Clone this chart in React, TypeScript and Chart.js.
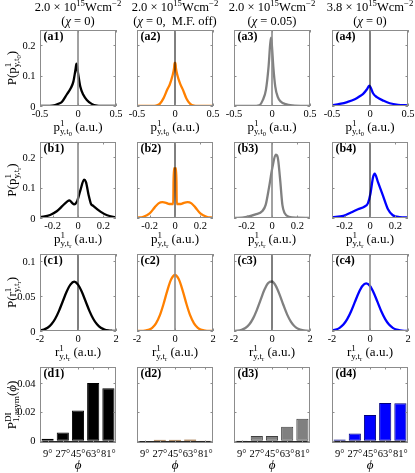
import React, { useEffect, useRef } from 'react';
import { Chart, registerables } from 'chart.js';

Chart.register(...registerables);

const FAMILY = '"Liberation Serif", "Times New Roman", "DejaVu Serif", serif';
Chart.defaults.font.family = FAMILY;
Chart.defaults.color = '#000';

// ---------------- data ----------------
const COLUMN_INTENSITY = ['2.0', '2.0', '2.0', '3.8'];
const COLUMN_CHI = ['0)', '0,  M.F. off)', '0.05)', '0)'];
const ROW_LETTERS = ['a', 'b', 'c', 'd'];

const A_X_RANGE = [-0.5, 0.5];
const A_Y_RANGE = [0, 0.25];
const A_X_TICKS = [-0.5, 0, 0.5];
const A_X_TICK_LABELS = ['-0.5', '0', '0.5'];
const A_Y_TICKS = [0, 0.1, 0.2];
const A_Y_TICK_LABELS = ['0', '0.1', '0.2'];

const B_X_RANGE = [-0.3, 0.3];
const B_Y_RANGE = [0, 0.25];
const B_X_TICKS = [-0.2, 0, 0.2];
const B_X_TICK_LABELS = ['-0.2', '0', '0.2'];
const B_Y_TICKS = [0, 0.1, 0.2];
const B_Y_TICK_LABELS = ['0', '0.1', '0.2'];

const C_X_RANGE = [-2, 2];
const C_Y_RANGE = [0, 0.11];
const C_X_TICKS = [-2, 0, 2];
const C_X_TICK_LABELS = ['-2', '0', '2'];
const C_Y_TICKS = [0, 0.05, 0.1];
const C_Y_TICK_LABELS = ['0', '0.05', '0.1'];

const D_Y_RANGE = [-0.0015, 0.051];
const D_Y_TICKS = [0, 0.02, 0.04];
const D_Y_TICK_LABELS = ['0', '0.02', '0.04'];
const PHI_CATEGORIES = ['9°', '27°', '45°', '63°', '81°'];

const A1_X = [-0.5, -0.4, -0.34, -0.3, -0.25, -0.21, -0.15, -0.094, -0.06, -0.033, -0.02, 0, 0.03, 0.07, 0.116, 0.18, 0.25, 0.3, 0.4, 0.5];
const A1_Y = [0, 0, 0.001, 0.003, 0.008, 0.014, 0.037, 0.059, 0.081, 0.12, 0.139, 0.109, 0.064, 0.037, 0.02, 0.007, 0.001, 0, 0, 0];
const A2_X = [-0.5, -0.3, -0.25, -0.2, -0.15, -0.1, -0.07, -0.035, -0.012, -0.006, 0.006, 0.012, 0.035, 0.07, 0.105, 0.15, 0.2, 0.25, 0.3, 0.5];
const A2_Y = [0, 0, 0.001, 0.007, 0.026, 0.055, 0.07, 0.098, 0.125, 0.142, 0.142, 0.125, 0.098, 0.072, 0.053, 0.025, 0.007, 0.001, 0, 0];
const A3_X = [-0.5, -0.25, -0.17, -0.12, -0.08, -0.045, -0.025, -0.013, -0.003, 0.017, 0.043, 0.074, 0.118, 0.18, 0.27, 0.5];
const A3_Y = [0, 0, 0.002, 0.02, 0.053, 0.13, 0.2, 0.225, 0.205, 0.13, 0.064, 0.031, 0.014, 0.006, 0.002, 0];
const A4_X = [-0.5, -0.4, -0.3, -0.2, -0.14, -0.09, -0.04, -0.01, 0.01, 0.04, 0.09, 0.18, 0.26, 0.37, 0.5];
const A4_Y = [0.002, 0.0067, 0.013, 0.022, 0.031, 0.04, 0.055, 0.067, 0.06, 0.042, 0.029, 0.017, 0.009, 0.004, 0.002];

const B1_X = [-0.3, -0.22, -0.165, -0.127, -0.086, -0.067, -0.047, -0.03, -0.008, 0.018, 0.048, 0.063, 0.084, 0.102, 0.12, 0.177, 0.23, 0.3];
const B1_Y = [0.002, 0.01, 0.023, 0.038, 0.054, 0.058, 0.05, 0.045, 0.054, 0.09, 0.126, 0.118, 0.075, 0.047, 0.04, 0.021, 0.009, 0.002];
const B2_X = [-0.3, -0.25, -0.2, -0.16, -0.13, -0.1, -0.07, -0.045, -0.014, -0.01, 0.01, 0.014, 0.045, 0.07, 0.1, 0.13, 0.16, 0.2, 0.25, 0.3];
const B2_Y = [0.001, 0.004, 0.015, 0.035, 0.048, 0.052, 0.05, 0.046, 0.046, 0.163, 0.163, 0.046, 0.046, 0.05, 0.052, 0.048, 0.035, 0.015, 0.004, 0.001];
const B3_X = [-0.3, -0.21, -0.13, -0.076, -0.05, -0.024, 0.003, 0.029, 0.045, 0.063, 0.082, 0.1, 0.134, 0.2, 0.3];
const B3_Y = [0, 0.003, 0.012, 0.023, 0.043, 0.099, 0.166, 0.208, 0.2, 0.132, 0.043, 0.016, 0.004, 0.001, 0];
const B4_X = [-0.3, -0.21, -0.15, -0.095, -0.042, -0.016, 0.003, 0.024, 0.037, 0.063, 0.103, 0.142, 0.18, 0.234, 0.3];
const B4_Y = [0.002, 0.007, 0.018, 0.029, 0.038, 0.049, 0.079, 0.134, 0.146, 0.118, 0.073, 0.029, 0.009, 0.003, 0.002];

const C_X = [-2, -1.8, -1.6, -1.4, -1.2, -1, -0.8, -0.6, -0.4, -0.2, 0, 0.2, 0.4, 0.6, 0.8, 1, 1.2, 1.4, 1.6, 1.8, 2];
const C1_Y = [0.0008, 0.002, 0.0046, 0.0095, 0.0175, 0.0288, 0.0425, 0.056, 0.0662, 0.0705, 0.0662, 0.056, 0.0425, 0.0288, 0.0175, 0.0095, 0.0046, 0.002, 0.0008, 0.0003, 0.0001];
const C2_Y = [0, 0.0001, 0.0005, 0.0016, 0.0045, 0.0108, 0.0222, 0.0389, 0.0581, 0.0738, 0.08, 0.0738, 0.0581, 0.0389, 0.0222, 0.0108, 0.0045, 0.0016, 0.0005, 0.0001, 0];
const C3_Y = [0.0002, 0.0006, 0.0018, 0.0043, 0.0093, 0.0177, 0.0299, 0.0446, 0.0588, 0.0686, 0.0707, 0.0645, 0.052, 0.0371, 0.0234, 0.013, 0.0064, 0.0028, 0.0011, 0.0004, 0.0001];
const C4_Y = [0.0008, 0.0019, 0.0045, 0.0092, 0.017, 0.0279, 0.0412, 0.0543, 0.0642, 0.068, 0.0642, 0.0543, 0.0412, 0.0279, 0.017, 0.0092, 0.0045, 0.0019, 0.0008, 0.0003, 0.0001];

const D1 = [0.0014, 0.0057, 0.0209, 0.04, 0.0363];
const D2 = [0.0001, 0.0007, 0.0007, 0.0009, -0.0015];
const D3 = [-0.0002, 0.0034, 0.0033, 0.0097, 0.0152];
const D4 = [0.0009, 0.005, 0.0179, 0.0262, 0.026];

const ROWS: any[] = [
  { xs: [A1_X, A2_X, A3_X, A4_X], ys: [A1_Y, A2_Y, A3_Y, A4_Y], xRange: A_X_RANGE, yRange: A_Y_RANGE, xTicks: A_X_TICKS, xTickLabels: A_X_TICK_LABELS, yTicks: A_Y_TICKS, yTickLabels: A_Y_TICK_LABELS },
  { xs: [B1_X, B2_X, B3_X, B4_X], ys: [B1_Y, B2_Y, B3_Y, B4_Y], xRange: B_X_RANGE, yRange: B_Y_RANGE, xTicks: B_X_TICKS, xTickLabels: B_X_TICK_LABELS, yTicks: B_Y_TICKS, yTickLabels: B_Y_TICK_LABELS },
  { xs: [C_X, C_X, C_X, C_X], ys: [C1_Y, C2_Y, C3_Y, C4_Y], xRange: C_X_RANGE, yRange: C_Y_RANGE, xTicks: C_X_TICKS, xTickLabels: C_X_TICK_LABELS, yTicks: C_Y_TICKS, yTickLabels: C_Y_TICK_LABELS },
  { bars: [D1, D2, D3, D4], categories: PHI_CATEGORIES, yRange: D_Y_RANGE, yTicks: D_Y_TICKS, yTickLabels: D_Y_TICK_LABELS },
];

// ---------------- layout / style ----------------
const W = 415;
const H = 473;
const COL_LEFT = [40, 137, 234, 332];
const PLOT_W = 76;
const ROW_TOP = [30, 142, 254, 367];
const ROW_H = [76, 76, 77, 76];
const YAXIS_W = 30;
const XAXIS_H = 20;
const ROW_TICK_PAD = [1.5, 1.5, 1.5, 4.5];
const ROW_XLABEL_BASE = [131, 243, 356, 469];
const BOX = '#8c8c8c';
const TICK_LEN = 2.5;
const TICK_FONT_SIZE = 10.5;
const CURVE_COLORS = ['#000000', '#ff8000', '#808080', '#0000ff'];
const BAR_EDGES = ['#000000', '#7f4000', '#404040', '#00007f'];
const ZERO_GRAY = [[1, 0, 1, 0], [1, 0, 1, 0], [0, 1, 0, 1]];

type Seg = { t: string; k?: 'n' | 'sup' | 'sub' | 'sub2'; it?: boolean; b?: boolean; back?: boolean };

const X_LABELS: Seg[][] = [
  [{ t: 'p' }, { t: '1', k: 'sup' }, { t: 'y,t', k: 'sub', back: true }, { t: '0', k: 'sub2' }, { t: ' (a.u.)' }],
  [{ t: 'p' }, { t: '1', k: 'sup' }, { t: 'y,t', k: 'sub', back: true }, { t: 'r', k: 'sub2' }, { t: ' (a.u.)' }],
  [{ t: 'r' }, { t: '1', k: 'sup' }, { t: 'y,t', k: 'sub', back: true }, { t: 'r', k: 'sub2' }, { t: ' (a.u.)' }],
  [{ t: 'ϕ', it: true }],
];
const Y_LABELS: Seg[][] = [
  [{ t: 'P(p' }, { t: '1', k: 'sup' }, { t: 'y,t', k: 'sub', back: true }, { t: '0', k: 'sub2' }, { t: ')' }],
  [{ t: 'P(p' }, { t: '1', k: 'sup' }, { t: 'y,t', k: 'sub', back: true }, { t: 'r', k: 'sub2' }, { t: ')' }],
  [{ t: 'P(r' }, { t: '1', k: 'sup' }, { t: 'y,t', k: 'sub', back: true }, { t: 'r', k: 'sub2' }, { t: ')' }],
  [{ t: 'P' }, { t: 'DI', k: 'sup' }, { t: '1,asym', k: 'sub', back: true }, { t: '(' }, { t: 'ϕ', it: true }, { t: ')' }],
];

function drawRich(ctx: CanvasRenderingContext2D, segs: Seg[], x: number, y: number, size: number, align: string) {
  const items: any[] = [];
  let cx = 0;
  let prevStart = 0;
  for (const s of segs) {
    const k = s.k || 'n';
    const sc = k === 'sup' || k === 'sub' ? 0.7 : k === 'sub2' ? 0.5 : 1;
    const font = `${s.it ? 'italic ' : ''}${s.b ? 'bold ' : ''}${(size * sc).toFixed(2)}px ${FAMILY}`;
    ctx.font = font;
    const w = ctx.measureText(s.t).width;
    const start = s.back ? prevStart : cx;
    const dy = k === 'sup' ? -0.38 * size : k === 'sub' ? 0.22 * size : k === 'sub2' ? 0.36 * size : 0;
    items.push({ t: s.t, font, x: start, dy });
    prevStart = start;
    cx = Math.max(cx, start + w);
  }
  const x0 = align === 'center' ? x - cx / 2 : align === 'right' ? x - cx : x;
  ctx.textAlign = 'left';
  ctx.textBaseline = 'alphabetic';
  for (const it of items) {
    ctx.font = it.font;
    ctx.fillText(it.t, x0 + it.x, y + it.dy);
  }
}

function yPixel(chart: any, spec: any, v: number): number {
  const ys = chart.scales.y;
  let p = ys ? ys.getPixelForValue(v) : NaN;
  if (!Number.isFinite(p) || p < 0 || p > H) {
    const a = chart.chartArea;
    p = a.bottom - ((v - spec.yRange[0]) / (spec.yRange[1] - spec.yRange[0])) * (a.bottom - a.top);
  }
  return p;
}

function decorPlugin(row: number, col: number) {
  const spec = ROWS[row];
  const isBar = row === 3;
  return {
    id: 'decor',
    afterDatasetsDraw(chart: any) {
      if (!isBar) return;
      const ctx = chart.ctx;
      const a = chart.chartArea;
      const y0 = Math.round(yPixel(chart, spec, 0)) + 0.5;
      ctx.save();
      ctx.strokeStyle = '#262626';
      ctx.lineWidth = 1;
      ctx.beginPath();
      ctx.moveTo(a.left, y0);
      ctx.lineTo(a.right, y0);
      ctx.stroke();
      ctx.restore();
    },
    afterDraw(chart: any) {
      const ctx: CanvasRenderingContext2D = chart.ctx;
      const a = chart.chartArea;
      const xs = chart.scales.x;
      const xPix: number[] = isBar
        ? spec.categories.map((_c: string, i: number) => xs.getPixelForValue(i))
        : spec.xTicks.map((v: number) => xs.getPixelForValue(v));
      const yPix: number[] = spec.yTicks.map((v: number) => yPixel(chart, spec, v));

      ctx.save();
      ctx.strokeStyle = BOX;
      ctx.lineWidth = 1;
      ctx.strokeRect(a.left + 0.5, a.top + 0.5, a.right - a.left - 1, a.bottom - a.top - 1);
      ctx.beginPath();
      xPix.forEach((px) => {
        const p = Math.round(px) + 0.5;
        ctx.moveTo(p, a.bottom);
        ctx.lineTo(p, a.bottom - TICK_LEN);
        ctx.moveTo(p, a.top);
        ctx.lineTo(p, a.top + TICK_LEN);
      });
      yPix.forEach((py) => {
        const p = Math.round(py) + 0.5;
        ctx.moveTo(a.left, p);
        ctx.lineTo(a.left + TICK_LEN, p);
        ctx.moveTo(a.right, p);
        ctx.lineTo(a.right - TICK_LEN, p);
      });
      ctx.stroke();
      ctx.restore();

      ctx.save();
      ctx.fillStyle = '#000000';
      if (col === 0) {
        for (let i = 0; i < yPix.length; i++) {
          drawRich(ctx, [{ t: String(spec.yTickLabels[i]) }], a.left - 4.5, yPix[i] + 3.6, TICK_FONT_SIZE, 'right');
        }
      }
      drawRich(ctx, [{ t: `(${ROW_LETTERS[row]}${col + 1})`, b: true }], a.left + 3.5, a.top + 10, 12, 'left');
      const cxp = (a.left + a.right) / 2;
      drawRich(ctx, X_LABELS[row], cxp, ROW_XLABEL_BASE[row], 13, 'center');
      if (row === 0) {
        drawRich(ctx, [{ t: `${COLUMN_INTENSITY[col]} × 10` }, { t: '15', k: 'sup' }, { t: 'Wcm' }, { t: '−2', k: 'sup' }], cxp, 11, 12.5, 'center');
        drawRich(ctx, [{ t: '(' }, { t: 'χ', it: true }, { t: ` = ${COLUMN_CHI[col]}` }], cxp, 24.5, 12.5, 'center');
      }
      ctx.restore();
      if (col === 0) {
        ctx.save();
        ctx.fillStyle = '#000000';
        ctx.translate(16, (a.top + a.bottom) / 2);
        ctx.rotate(-Math.PI / 2);
        drawRich(ctx, Y_LABELS[row], 0, 0, 13, 'center');
        ctx.restore();
      }
    },
  };
}

function buildConfig(row: number, col: number) {
  const spec = ROWS[row];
  const left = COL_LEFT[col];
  const top = ROW_TOP[row];
  const h = ROW_H[row];
  const padding = { left: left - YAXIS_W, top, right: W - left - PLOT_W, bottom: H - top - h - XAXIS_H };
  const tickFont = { family: FAMILY, size: TICK_FONT_SIZE };
  const isBar = row === 3;
  const xAfterFit = (s: any) => {
    s.height = XAXIS_H;
    s.paddingLeft = 0;
    s.paddingRight = 0;
  };
  const xScale: any = isBar
    ? {
        type: 'category',
        offset: true,
        grid: { display: false, drawTicks: false },
        border: { display: false },
        ticks: { font: tickFont, color: '#000', padding: ROW_TICK_PAD[row], autoSkip: false, maxRotation: 0, minRotation: 0 },
        afterFit: xAfterFit,
      }
    : {
        type: 'linear',
        min: spec.xRange[0],
        max: spec.xRange[1],
        afterBuildTicks: (s: any) => {
          s.ticks = spec.xTicks.map((v: number) => ({ value: v }));
        },
        grid: { display: false, drawTicks: false },
        border: { display: false },
        ticks: {
          font: tickFont,
          color: '#000',
          padding: ROW_TICK_PAD[row],
          autoSkip: false,
          maxRotation: 0,
          minRotation: 0,
          callback: (_v: any, i: number) => spec.xTickLabels[i],
        },
        afterFit: xAfterFit,
      };
  const yScale: any = {
    type: 'linear',
    min: spec.yRange[0],
    max: spec.yRange[1],
    grid: { display: false, drawTicks: false },
    border: { display: false },
    ticks: { display: false },
    afterFit: (s: any) => {
      s.width = YAXIS_W;
      s.paddingTop = 0;
      s.paddingBottom = 0;
    },
  };
  const options: any = {
    animation: false,
    responsive: false,
    maintainAspectRatio: false,
    events: [],
    layout: { padding },
    plugins: { legend: { display: false }, tooltip: { enabled: false }, title: { display: false } },
    scales: { x: xScale, y: yScale },
  };
  let data: any;
  if (isBar) {
    data = {
      labels: spec.categories,
      datasets: [
        {
          data: spec.bars[col],
          backgroundColor: CURVE_COLORS[col],
          borderColor: BAR_EDGES[col],
          borderWidth: 1,
          borderSkipped: false,
          barPercentage: 0.8,
          categoryPercentage: 1,
        },
      ],
    };
  } else {
    const gray = ZERO_GRAY[row][col] === 1;
    data = {
      datasets: [
        {
          data: [
            { x: 0, y: spec.yRange[0] },
            { x: 0, y: spec.yRange[1] },
          ],
          borderColor: gray ? '#8a8a8a' : '#000000',
          borderWidth: gray ? 1.6 : 1,
          pointRadius: 0,
          fill: false,
        },
        {
          data: spec.xs[col].map((x: number, i: number) => ({ x, y: spec.ys[col][i] })),
          borderColor: CURVE_COLORS[col],
          borderWidth: 2.3,
          pointRadius: 0,
          fill: false,
          cubicInterpolationMode: 'monotone',
        },
      ],
    };
  }
  return { type: isBar ? 'bar' : 'line', data, options, plugins: [decorPlugin(row, col)] };
}

function Panel({ row, col }: { row: number; col: number }) {
  const ref = useRef<HTMLCanvasElement>(null);
  useEffect(() => {
    const canvas = ref.current;
    if (!canvas) return;
    const chart = new Chart(canvas, buildConfig(row, col) as any);
    return () => chart.destroy();
  }, [row, col]);
  return (
    <canvas
      ref={ref}
      width={W}
      height={H}
      style={{ position: 'absolute', left: 0, top: 0, width: W, height: H, pointerEvents: 'none', zIndex: col === 0 ? 10 : 1 }}
    />
  );
}

export default function App() {
  const panels: React.ReactElement[] = [];
  for (let r = 0; r < 4; r++) {
    for (let c = 0; c < 4; c++) {
      panels.push(<Panel key={`${r}-${c}`} row={r} col={c} />);
    }
  }
  return (
    <div style={{ position: 'fixed', left: 0, top: 0, width: W, height: H, background: '#fff', overflow: 'hidden' }}>
      {panels}
    </div>
  );
}
